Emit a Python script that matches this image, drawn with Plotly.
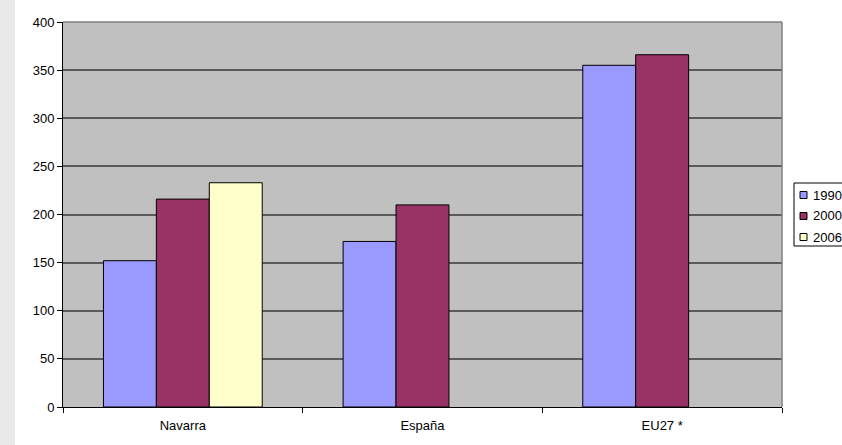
import plotly.graph_objects as go

# Regions and indicator values per year
regions = ["Navarra", "España", "EU27 *"]
years = ["1990", "2000", "2006"]
values_1990 = [152, 172, 355]
values_2000 = [216, 210, 366]
values_2006 = [233, None, None]
y_ticks = [0, 50, 100, 150, 200, 250, 300, 350, 400]
colors = ["#9999ff", "#993366", "#ffffcc"]

W, H = 842, 445
ML, MR, MT, MB = 63, 60, 22, 38
PW, PH = W - ML - MR, H - MT - MB


def px_x(x):
    """Page pixel x -> paper coordinate."""
    return (x - ML) / PW


def px_y(y):
    """Page pixel y (from top) -> paper coordinate."""
    return (H - MB - y) / PH


fig = go.Figure()
for name, vals, color in zip(years, [values_1990, values_2000, values_2006], colors):
    fig.add_trace(go.Bar(
        x=regions, y=vals, name=name,
        marker=dict(color=color, line=dict(color="#000000", width=1)),
    ))

font = dict(family="Liberation Sans, Arial, sans-serif", size=13, color="#000000")

shapes = [
    # light textured strip on the left edge of the page
    dict(type="rect", xref="paper", yref="paper",
         x0=px_x(0), x1=px_x(15), y0=px_y(H), y1=px_y(0),
         line=dict(width=0), fillcolor="#e9e9e9", layer="below"),
    # plot frame (top and right edges)
    dict(type="line", xref="paper", yref="paper", x0=0, x1=1, y0=1, y1=1,
         line=dict(color="#808080", width=1.5)),
    dict(type="line", xref="paper", yref="paper", x0=1, x1=1, y0=0, y1=1,
         line=dict(color="#808080", width=1.5)),
    # legend box
    dict(type="rect", xref="paper", yref="paper",
         x0=px_x(794), x1=px_x(W + 10), y0=px_y(246), y1=px_y(183),
         line=dict(color="#000000", width=1), fillcolor="#ffffff"),
]
annotations = []
row_y = [195, 216, 237]
for name, color, ry in zip(years, colors, row_y):
    shapes.append(dict(type="rect", xref="paper", yref="paper",
                       x0=px_x(800), x1=px_x(807), y0=px_y(ry + 3.5), y1=px_y(ry - 3.5),
                       line=dict(color="#000000", width=1), fillcolor=color))
    annotations.append(dict(xref="paper", yref="paper", x=px_x(811), y=px_y(ry),
                            xanchor="left", yanchor="middle", showarrow=False,
                            text=name, font=font))

fig.update_layout(
    width=W, height=H,
    margin=dict(l=ML, r=MR, t=MT, b=MB, autoexpand=False),
    paper_bgcolor="#ffffff",
    plot_bgcolor="#c0c0c0",
    barmode="group",
    bargap=0.3375,
    bargroupgap=0,
    font=font,
    showlegend=False,
    xaxis=dict(
        showline=True, linecolor="#000000", linewidth=1,
        ticks="outside", tickson="boundaries", ticklen=5, tickcolor="#000000",
        showgrid=False, tickfont=font, ticklabelstandoff=6,
    ),
    yaxis=dict(
        range=[0, 400], tickvals=y_ticks, ticktext=[str(v) for v in y_ticks],
        showline=True, linecolor="#000000", linewidth=1,
        ticks="outside", ticklen=5, tickcolor="#000000",
        showgrid=True, gridcolor="#5a5a5a", gridwidth=1.5,
        zeroline=False, tickfont=font,
    ),
    shapes=shapes,
    annotations=annotations,
)

fig.write_html("out.html")
